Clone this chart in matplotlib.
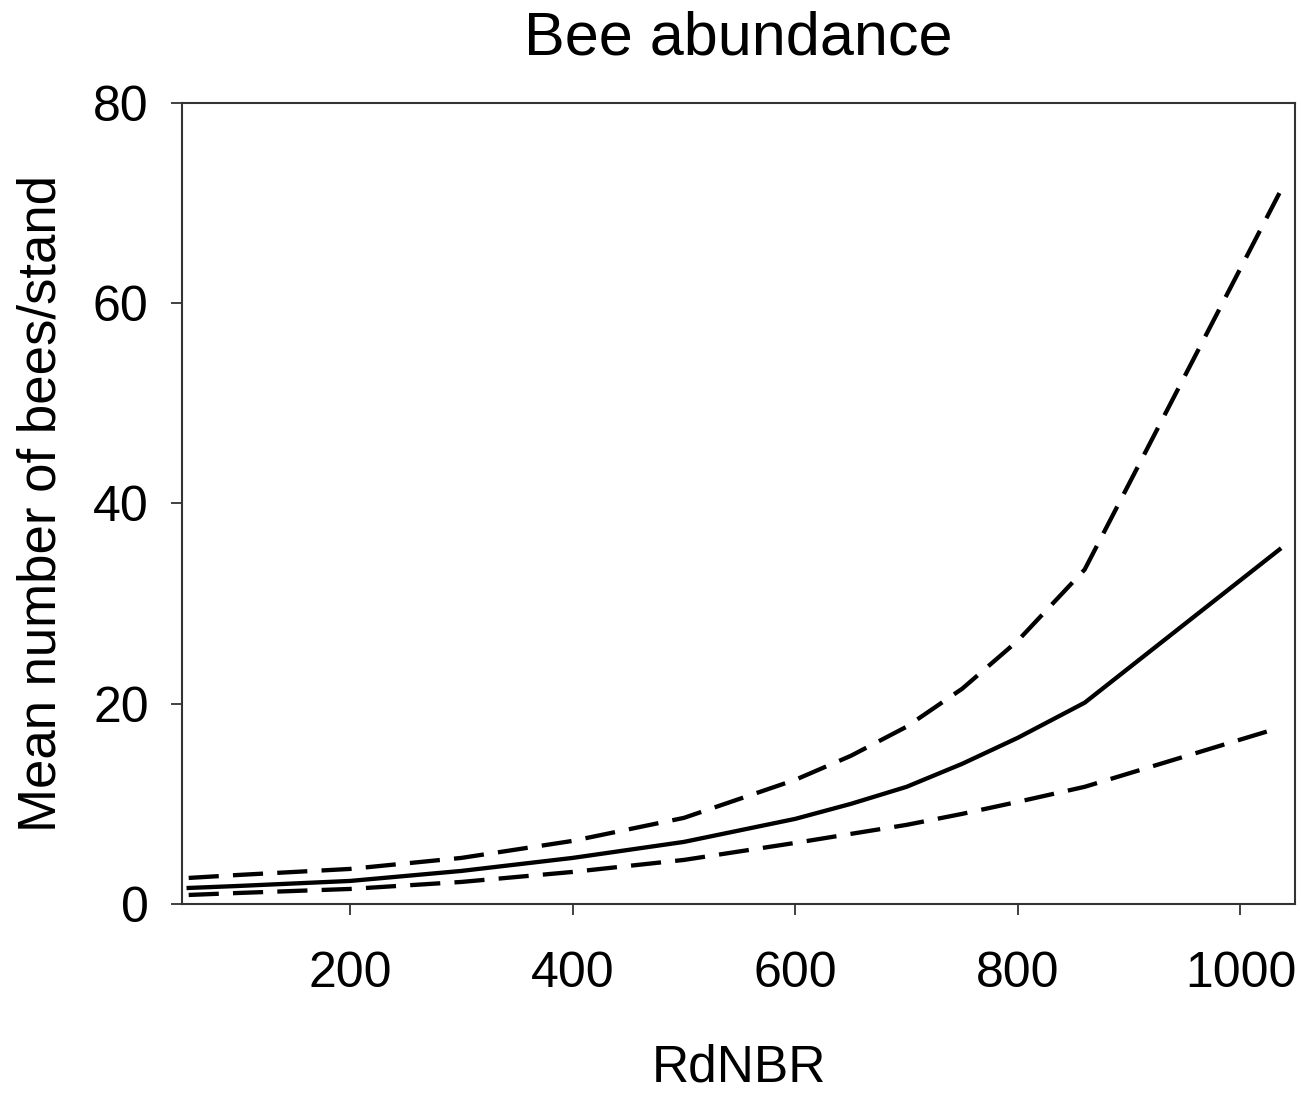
#Bee abundance vs RdNBR, fitted curve with confidence limits
import matplotlib
matplotlib.use("Agg")
import matplotlib.pyplot as plt

#values
rdnbr = [55, 100, 200, 300, 400, 500, 600, 650, 700, 750, 800, 860, 1035]
mean_bees = [1.6, 1.8, 2.3, 3.3, 4.6, 6.2, 8.5, 10.0, 11.7, 14.0, 16.6, 20.1, 35.4]
upper_ci = [2.6, 2.9, 3.5, 4.6, 6.3, 8.6, 12.4, 14.8, 17.7, 21.5, 26.3, 33.4, 71.0]
lower_ci = [0.9, 1.1, 1.5, 2.2, 3.2, 4.4, 6.1, 7.0, 7.9, 9.0, 10.2, 11.7, 17.6]

x_ticks = [200, 400, 600, 800, 1000]
y_ticks = [0, 20, 40, 60, 80]

plt.rcParams['font.family'] = ['Liberation Sans', 'DejaVu Sans']

fig = plt.figure(figsize=(13.01, 10.94), dpi=100)
ax = fig.add_axes([0.1399, 0.1737, 0.8555, 0.7322])

#fitted mean and the two confidence limits
ax.plot(rdnbr, mean_bees, color='black', linewidth=3.1)
ax.plot(rdnbr, upper_ci, color='black', linewidth=3.1, dashes=(7, 3.3))
ax.plot(rdnbr, lower_ci, color='black', linewidth=3.1, dashes=(7, 3.3))

ax.set_xlim(49, 1049)
ax.set_ylim(0, 80)
ax.set_xticks(x_ticks)
ax.set_yticks(y_ticks)

for spine in ax.spines.values():
    spine.set_linewidth(1.5)
    spine.set_color('#333333')

ax.tick_params(axis='both', direction='out', length=8, width=1.3,
               labelsize=36, color='#333333')
ax.tick_params(axis='x', pad=26)
ax.tick_params(axis='y', pad=16)

ax.set_xlabel("RdNBR", fontsize=37, labelpad=33)
ax.set_ylabel("Mean number of bees/stand", fontsize=38, labelpad=19)
ax.set_title("Bee abundance", fontsize=44, pad=35)

plt.savefig("out.png", dpi=100)
